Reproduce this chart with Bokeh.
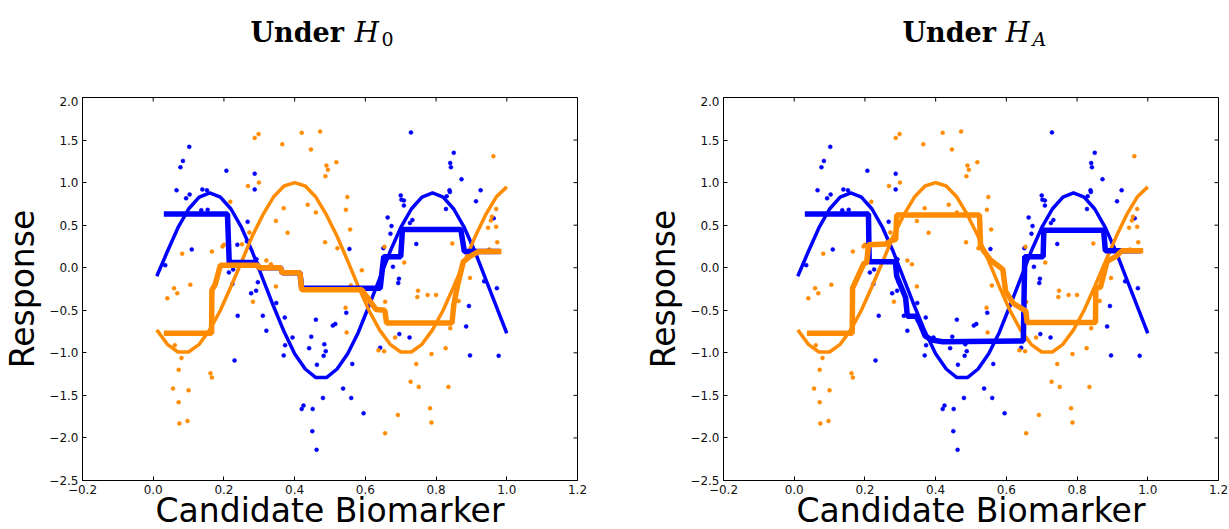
import math
from bokeh.plotting import figure
from bokeh.layouts import row, column
from bokeh.models import Range1d, FixedTicker
from bokeh.core.properties import value
from bokeh.embed import file_html
from bokeh.resources import INLINE

# ---------------- data ----------------
curve_x = [0.01, 0.04, 0.07, 0.10, 0.13, 0.16, 0.19, 0.22, 0.25, 0.28, 0.31, 0.34,
           0.37, 0.40, 0.43, 0.46, 0.49, 0.52, 0.55, 0.58, 0.61, 0.64, 0.67, 0.70,
           0.73, 0.76, 0.79, 0.82, 0.85, 0.88, 0.91, 0.94, 0.97, 1.00]
blue_curve_y = [-0.10, 0.19, 0.47, 0.69, 0.83, 0.88, 0.83, 0.69, 0.47, 0.19, -0.13, -0.45,
                -0.75, -1.01, -1.19, -1.29, -1.29, -1.19, -1.01, -0.76, -0.45, -0.13, 0.19, 0.47,
                0.69, 0.83, 0.88, 0.83, 0.69, 0.47, 0.19, -0.13, -0.45, -0.77]
orange_curve_y = [-0.73, -0.90, -0.99, -0.99, -0.90, -0.73, -0.50, -0.22, 0.07, 0.37, 0.62, 0.83,
                  0.96, 1.00, 0.96, 0.83, 0.62, 0.37, 0.08, -0.22, -0.50, -0.73, -0.90, -0.99,
                  -0.99, -0.90, -0.73, -0.50, -0.22, 0.07, 0.36, 0.62, 0.83, 0.95]

blue_pts_x = [0.102, 0.084, 0.077, 0.066, 0.093, 0.103, 0.139, 0.152, 0.136, 0.154, 0.207, 0.287,
              0.287, 0.267, 0.109, 0.034, 0.238, 0.265, 0.214, 0.226, 0.224, 0.296, 0.292, 0.277,
              0.291, 0.239, 0.320, 0.310, 0.348, 0.372, 0.394, 0.373, 0.369, 0.230, 0.460, 0.508,
              0.447, 0.441, 0.484, 0.488, 0.482, 0.463, 0.480, 0.425, 0.420, 0.451, 0.450, 0.462,
              0.546, 0.515, 0.563, 0.537, 0.560, 0.595, 0.642, 0.696, 0.725, 0.693, 0.893, 0.885,
              0.896, 0.977, 0.936, 0.972, 0.729, 0.850, 0.840, 0.842, 0.872, 0.926, 0.913, 0.838,
              0.839, 0.830, 0.828, 0.700, 0.702, 0.709, 0.709, 0.663, 0.674, 0.733, 0.726, 0.671,
              0.744, 0.555, 0.651, 0.678, 0.695, 0.900, 0.963]
blue_pts_y = [1.42, 1.255, 1.18, 0.91, 0.815, 0.86, 0.92, 0.91, 0.675, 0.68, 1.14, 1.105,
              0.92, 0.54, 0.215, 0.03, 0.27, 0.31, -0.055, -0.02, -0.19, -0.17, 0.10, -0.30,
              -0.27, -0.565, -0.74, -0.565, -0.415, -0.585, -0.82, -0.91, -1.03, -1.09, -0.61, -0.68,
              -0.81, -0.945, -0.90, -0.98, -1.035, -1.14, -1.53, -1.62, -1.66, -1.66, -1.92, -2.14,
              -0.53, -0.66, -1.13, -1.42, -1.53, -1.71, -0.94, -0.78, -0.82, -0.18, -0.45, -0.69,
              -1.03, -1.035, -0.16, -0.24, 1.59, 1.35, 1.23, 1.18, 1.04, 0.91, 0.78, 0.91,
              0.89, 0.84, 0.69, 0.85, 0.80, 0.79, 0.73, 0.59, 0.49, 0.56, 0.525, 0.40,
              0.28, 0.22, 0.23, 0.01, -0.13, 0.29, 0.58]

orange_pts_x = [0.287, 0.298, 0.420, 0.472, 0.365, 0.446, 0.490, 0.494, 0.487, 0.299, 0.268, 0.218,
                0.369, 0.437, 0.460, 0.347, 0.380, 0.486, 0.272, 0.251, 0.200, 0.196, 0.166, 0.082,
                0.320, 0.333, 0.347, 0.105, 0.059, 0.068, 0.040, 0.282, 0.061, 0.080, 0.072, 0.162,
                0.166, 0.056, 0.100, 0.072, 0.097, 0.074, 0.559, 0.544, 0.547, 0.656, 0.749, 0.747,
                0.776, 0.800, 0.864, 0.840, 0.684, 0.637, 0.653, 0.787, 0.827, 0.744, 0.728, 0.751,
                0.835, 0.783, 0.787, 0.692, 0.656, 0.518, 0.549, 0.545, 0.557, 0.521, 0.590, 0.654,
                0.710, 0.846, 0.896, 0.962, 0.970, 0.958, 0.955, 0.970, 0.947, 0.973, 0.950]
orange_pts_y = [1.525, 1.57, 1.585, 1.60, 1.45, 1.39, 1.20, 1.15, 1.075, 1.00, 0.96, 0.775,
                0.70, 0.74, 0.65, 0.55, 0.41, 0.30, 0.415, 0.275, 0.27, 0.25, 0.19, 0.165,
                0.085, 0.04, -0.22, -0.20, -0.24, -0.30, -0.36, -0.40, -0.91, -1.06, -1.20, -1.24,
                -1.29, -1.42, -1.44, -1.58, -1.80, -1.83, -0.21, -0.47, -0.76, -0.40, -0.27, -0.345,
                -0.32, -0.32, -0.39, -0.71, -0.82, -0.97, -0.98, -1.015, -0.945, -1.13, -1.34, -1.40,
                -1.40, -1.65, -1.82, -1.73, -1.945, 1.24, 0.83, 0.68, 0.45, 0.23, -0.03, 0.245,
                0.06, 0.285, -0.12, 1.31, 0.69, 0.60, 0.555, 0.48, 0.47, 0.30, 0.215]

h0_blue_step_x = [0.03, 0.21, 0.215, 0.29, 0.30, 0.36, 0.365, 0.415, 0.42, 0.642, 0.652, 0.70,
                  0.705, 0.87, 0.88, 0.98]
h0_blue_step_y = [0.63, 0.63, 0.06, 0.06, 0.0, 0.0, -0.06, -0.06, -0.24, -0.24, 0.13, 0.13,
                  0.45, 0.45, 0.19, 0.19]
h0_orange_step_x = [0.03, 0.165, 0.166, 0.175, 0.19, 0.295, 0.30, 0.36, 0.365, 0.415, 0.42, 0.59,
                    0.63, 0.655, 0.66, 0.845, 0.85, 0.86, 0.877, 0.895, 0.92, 0.985]
h0_orange_step_y = [-0.77, -0.77, -0.26, -0.20, 0.03, 0.03, 0.0, 0.0, -0.06, -0.06, -0.26, -0.26,
                    -0.49, -0.50, -0.65, -0.65, -0.44, -0.22, 0.07, 0.13, 0.19, 0.19]

ha_blue_step_x = [0.03, 0.21, 0.212, 0.286, 0.29, 0.30, 0.31, 0.315, 0.32, 0.345, 0.355, 0.37,
                  0.39, 0.42, 0.648, 0.652, 0.704, 0.706, 0.875, 0.88, 0.98]
ha_blue_step_y = [0.63, 0.63, 0.07, 0.07, -0.10, -0.20, -0.30, -0.35, -0.57, -0.57, -0.65, -0.80,
                  -0.85, -0.87, -0.86, 0.13, 0.13, 0.44, 0.44, 0.20, 0.20]
ha_orange_step_x = [0.036, 0.164, 0.165, 0.175, 0.197, 0.205, 0.21, 0.26, 0.275, 0.287, 0.29, 0.524,
                    0.527, 0.555, 0.59, 0.598, 0.62, 0.655, 0.659, 0.852, 0.853, 0.866, 0.885, 0.909,
                    0.927, 0.987]
ha_orange_step_y = [-0.77, -0.77, -0.24, -0.15, 0.05, 0.06, 0.27, 0.28, 0.32, 0.33, 0.62, 0.62,
                    0.25, 0.09, -0.02, -0.28, -0.42, -0.51, -0.645, -0.645, -0.24, -0.23, 0.075, 0.13,
                    0.20, 0.20]

x_ticks = [-0.2, 0.0, 0.2, 0.4, 0.6, 0.8, 1.0, 1.2]
x_tick_labels = ["\u22120.2", "0.0", "0.2", "0.4", "0.6", "0.8", "1.0", "1.2"]
y_ticks = [-2.5, -2.0, -1.5, -1.0, -0.5, 0.0, 0.5, 1.0, 1.5, 2.0]
y_tick_labels = ["\u22122.5", "\u22122.0", "\u22121.5", "\u22121.0", "\u22120.5", "0.0", "0.5",
                 "1.0", "1.5", "2.0"]

title_words = ["Under", "Under"]
title_symbols = ["H", "H"]
title_subscripts = ["0", "A"]

BLUE = "#0000ff"
ORANGE = "#ff8c00"
X_RANGE = (-0.2, 1.2)
Y_RANGE = (-2.5, 2.0)


def style_axis(ax, ticks, labels):
    ax.ticker = FixedTicker(ticks=ticks)
    ax.major_label_overrides = {t: l for t, l in zip(ticks, labels)}
    ax.major_tick_in = 4
    ax.major_tick_out = 0
    ax.minor_tick_line_color = None
    ax.axis_line_color = "black"
    ax.major_tick_line_color = "black"
    ax.major_label_text_font = "DejaVu Sans"
    ax.major_label_text_color = "#111111"
    ax.major_label_text_font_size = "12px"
    ax.major_label_standoff = 4


def make_panel(bsx, bsy, osx, osy, bl, br):
    p = figure(frame_width=495, frame_height=383,
               x_range=Range1d(*X_RANGE), y_range=Range1d(*Y_RANGE),
               output_backend="svg", toolbar_location=None,
               min_border_left=bl, min_border_right=br,
               min_border_top=1, min_border_bottom=49)
    p.grid.visible = False
    p.outline_line_color = "black"
    p.outline_line_width = 1
    p.background_fill_color = "white"
    p.border_fill_color = "white"

    xb = p.below[0]
    yl = p.left[0]
    style_axis(xb, x_ticks, x_tick_labels)
    style_axis(yl, y_ticks, y_tick_labels)
    xb.axis_label = "Candidate Biomarker"
    yl.axis_label = "Response"
    for ax in (xb, yl):
        ax.axis_label_text_font = "DejaVu Sans"
        ax.axis_label_text_font_size = "33px"
        ax.axis_label_text_font_style = "normal"
        ax.axis_label_text_color = "black"
    xb.axis_label_standoff = -6
    yl.axis_label_standoff = 4

    # inward ticks on the top and right edges (matplotlib classic style)
    p.ray(x=x_ticks, y=Y_RANGE[1], length=4, length_units="screen", angle=-math.pi / 2,
          line_color="black", line_width=1)
    p.ray(x=X_RANGE[1], y=y_ticks, length=4, length_units="screen", angle=math.pi,
          line_color="black", line_width=1)

    p.scatter(blue_pts_x, blue_pts_y, size=4, fill_color=BLUE, line_color=BLUE, line_width=0.5)
    p.scatter(orange_pts_x, orange_pts_y, size=4, fill_color=ORANGE, line_color=ORANGE, line_width=0.5)
    p.line(curve_x, blue_curve_y, line_color=BLUE, line_width=3.5)
    p.line(curve_x, orange_curve_y, line_color=ORANGE, line_width=3.5)
    p.line(bsx, bsy, line_color=BLUE, line_width=5.5)
    p.line(osx, osy, line_color=ORANGE, line_width=5.5)
    return p


p1 = make_panel(h0_blue_step_x, h0_blue_step_y, h0_orange_step_x, h0_orange_step_y, 82, 59)
p2 = make_panel(ha_blue_step_x, ha_blue_step_y, ha_orange_step_x, ha_orange_step_y, 87, 11)

# title strip (pixel-like coordinates: x = canvas px, y = px up from strip bottom)
TITLE_H = 96
tp = figure(width=1229, height=TITLE_H, x_range=Range1d(0, 1229), y_range=Range1d(0, TITLE_H),
            output_backend="svg", toolbar_location=None, min_border=0)
tp.axis.visible = False
tp.grid.visible = False
tp.outline_line_color = None
tp.border_fill_color = "white"
tp.text(x=[250, 902], y=[64, 64], text=title_words, text_font=value("DejaVu Serif"),
        text_font_style="bold", text_font_size="27px", text_color="black",
        text_baseline="alphabetic")
tp.text(x=[354, 1005], y=[64, 64], text=title_symbols, text_font=value("DejaVu Serif"),
        text_font_style="italic", text_font_size="28px", text_color="black",
        text_baseline="alphabetic")
tp.text(x=[381], y=[58], text=title_subscripts[:1], text_font=value("DejaVu Serif"),
        text_font_style="normal", text_font_size="19px", text_color="black",
        text_baseline="alphabetic")
tp.text(x=[1032], y=[58], text=title_subscripts[1:], text_font=value("DejaVu Serif"),
        text_font_style="italic", text_font_size="19px", text_color="black",
        text_baseline="alphabetic")

layout = column(tp, row(p1, p2))
open("out.html", "w").write(file_html(layout, INLINE))
